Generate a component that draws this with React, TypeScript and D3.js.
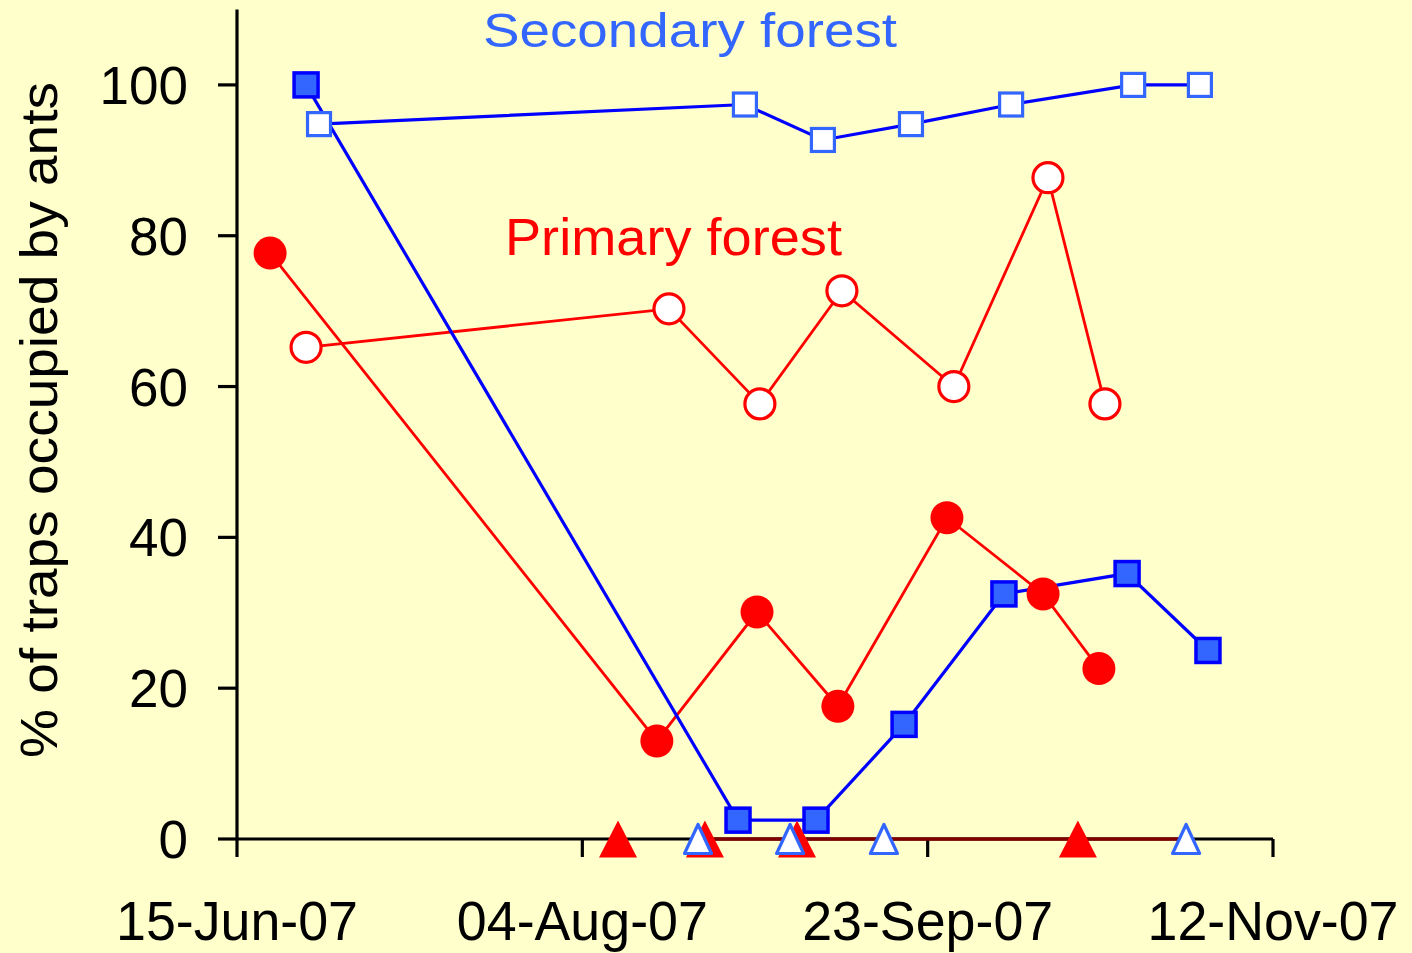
import React from "react";
import * as d3 from "d3";

const W = 1412;
const H = 953;

const parse = d3.utcParse("%Y-%m-%d %H:%M");

// Primary forest, filled circles
const primaryFilledDates = ["2007-06-19 19:00", "2007-08-14 19:00", "2007-08-29 07:00", "2007-09-10 00:00", "2007-09-25 19:00", "2007-10-09 17:00", "2007-10-17 19:00"];
const primaryFilledValues = [77.7, 13.0, 30.1, 17.6, 42.6, 32.5, 22.6];

// Primary forest, open circles
const primaryOpenDates = ["2007-06-25 00:00", "2007-08-16 13:00", "2007-08-29 17:00", "2007-09-10 14:00", "2007-09-26 19:00", "2007-10-10 10:00", "2007-10-18 16:00"];
const primaryOpenValues = [65.2, 70.3, 57.7, 72.7, 60.0, 87.7, 57.7];

// Secondary forest, filled squares
const secondaryFilledDates = ["2007-06-25 00:00", "2007-08-26 13:00", "2007-09-06 20:00", "2007-09-19 14:00", "2007-10-04 01:00", "2007-10-21 21:00", "2007-11-02 14:00"];
const secondaryFilledValues = [100, 2.5, 2.5, 15.2, 32.5, 35.2, 25.0];

// Secondary forest, open squares
const secondaryOpenDates = ["2007-06-26 21:00", "2007-08-27 13:00", "2007-09-07 20:00", "2007-09-20 14:00", "2007-10-05 02:00", "2007-10-22 18:00", "2007-11-01 10:00"];
const secondaryOpenValues = [94.8, 97.4, 92.7, 94.8, 97.4, 100, 100];

// Triangles at zero
const primaryTriDates = ["2007-08-09 04:00", "2007-08-21 18:00", "2007-09-04 02:00", "2007-10-14 18:00"];
const primaryTriValues = [0, 0, 0, 0];
const secondaryTriDates = ["2007-08-20 18:00", "2007-09-03 02:00", "2007-09-16 16:00", "2007-10-30 10:00"];
const secondaryTriValues = [0, 0, 0, 0];

// Axis ticks
const xTickDates = ["2007-06-15 00:00", "2007-08-04 00:00", "2007-09-23 00:00", "2007-11-12 00:00"];
const xTickLabels = ["15-Jun-07", "04-Aug-07", "23-Sep-07", "12-Nov-07"];
const yTicks = [0, 20, 40, 60, 80, 100];

const zip = (ds: string[], vs: number[]) => ds.map((d, i) => ({ date: parse(d) as Date, value: vs[i] }));

export default function App() {
  const x = d3.scaleUtc().domain([parse(xTickDates[0]) as Date, parse(xTickDates[3]) as Date]).range([237, 1273]);
  const y = d3.scaleLinear().domain([0, 110]).range([839, 9.5]);

  const pf = zip(primaryFilledDates, primaryFilledValues);
  const po = zip(primaryOpenDates, primaryOpenValues);
  const sf = zip(secondaryFilledDates, secondaryFilledValues);
  const so = zip(secondaryOpenDates, secondaryOpenValues);
  const pt = zip(primaryTriDates, primaryTriValues);
  const st = zip(secondaryTriDates, secondaryTriValues);

  const line = d3.line<{ date: Date; value: number }>().x((d) => x(d.date)).y((d) => y(d.value));

  const zeroSeg = [pt[1], st[3]];

  const redTri = (cx: number, cy: number) => `M${cx},${cy - 18.5}L${cx + 19},${cy + 18.5}L${cx - 19},${cy + 18.5}Z`;
  const blueTri = (cx: number, cy: number) => `M${cx},${cy - 14.5}L${cx + 13.5},${cy + 14.5}L${cx - 13.5},${cy + 14.5}Z`;

  const font = "'Liberation Sans', Arial, sans-serif";

  return (
    <svg width={W} height={H} style={{ position: "absolute", left: 0, top: 0 }} fontFamily={font}>
      <rect x={0} y={0} width={W} height={H} fill="#ffffcc" />

      {/* axes */}
      <line x1={x(parse(xTickDates[0]) as Date)} x2={x(parse(xTickDates[3]) as Date)} y1={y(0)} y2={y(0)} stroke="#000" strokeWidth={3.2} />
      <line x1={237} x2={237} y1={y(110)} y2={y(0)} stroke="#000" strokeWidth={3.2} />
      {yTicks.map((t) => (
        <g key={t}>
          <line x1={218} x2={237} y1={y(t)} y2={y(t)} stroke="#000" strokeWidth={3.2} />
          <text x={188} y={y(t) + 19} textAnchor="end" fontSize={53} fill="#000">{t}</text>
        </g>
      ))}
      {xTickDates.map((d, i) => {
        const xx = x(parse(d) as Date);
        return (
          <g key={d}>
            <line x1={xx} x2={xx} y1={y(0)} y2={y(0) + 18} stroke="#000" strokeWidth={3.2} />
            <g transform={`translate(${xx},940) scale(0.96,1)`}>
              <text x={0} y={0} textAnchor="middle" fontSize={56} fill="#000">{xTickLabels[i]}</text>
            </g>
          </g>
        );
      })}

      {/* y title */}
      <text transform="translate(57,420) rotate(-90)" textAnchor="middle" fontSize={52} fill="#000" textLength={676} lengthAdjust="spacingAndGlyphs">
        % of traps occupied by ants
      </text>

      {/* series labels */}
      <text x={483} y={47} fontSize={48} fill="#3366ff" textLength={414} lengthAdjust="spacingAndGlyphs">Secondary forest</text>
      <text x={505} y={255} fontSize={52} fill="#ff0000" textLength={337} lengthAdjust="spacingAndGlyphs">Primary forest</text>

      {/* lines */}
      <path d={line(zeroSeg) || ""} fill="none" stroke="#800000" strokeWidth={3.5} />
      <path d={line(pf) || ""} fill="none" stroke="#ff0000" strokeWidth={2.8} />
      <path d={line(po) || ""} fill="none" stroke="#ff0000" strokeWidth={2.8} />
      <path d={line(sf) || ""} fill="none" stroke="#0000ff" strokeWidth={3.2} />
      <path d={line(so) || ""} fill="none" stroke="#0000ff" strokeWidth={3.2} />

      {/* markers */}
      {pf.map((d, i) => (
        <circle key={`pf${i}`} cx={x(d.date)} cy={y(d.value)} r={16.5} fill="#ff0000" />
      ))}
      {po.map((d, i) => (
        <circle key={`po${i}`} cx={x(d.date)} cy={y(d.value)} r={15} fill="#ffffff" stroke="#ff0000" strokeWidth={3.2} />
      ))}
      {sf.map((d, i) => (
        <rect key={`sf${i}`} x={x(d.date) - 12} y={y(d.value) - 12} width={24} height={24} fill="#3366ff" stroke="#0000ff" strokeWidth={3.5} />
      ))}
      {so.map((d, i) => (
        <rect key={`so${i}`} x={x(d.date) - 11.5} y={y(d.value) - 11.5} width={23} height={23} fill="#ffffff" stroke="#3366ff" strokeWidth={3.2} />
      ))}
      {pt.map((d, i) => (
        <path key={`pt${i}`} d={redTri(x(d.date), y(d.value))} fill="#ff0000" />
      ))}
      {st.map((d, i) => (
        <path key={`st${i}`} d={blueTri(x(d.date), y(d.value))} fill="#ffffff" stroke="#3366ff" strokeWidth={3.2} strokeLinejoin="round" />
      ))}
    </svg>
  );
}
